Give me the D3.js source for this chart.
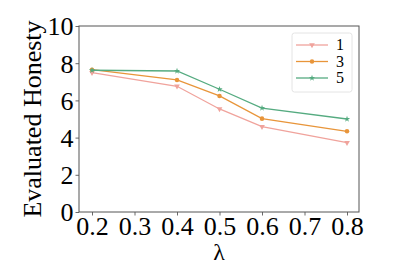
<!DOCTYPE html>
<html>
<head>
<meta charset="utf-8">
<script src="https://cdn.jsdelivr.net/npm/d3@7"></script>
<style>
  body { margin: 0; background: #fff; }
  svg text { font-family: "Liberation Serif", "DejaVu Serif", serif; }
</style>
</head>
<body>
<div id="chart"></div>
<script>
// data
var lambdas = [0.2, 0.4, 0.5, 0.6, 0.8];
var series1 = [7.49, 6.76, 5.54, 4.59, 3.73];
var series3 = [7.65, 7.10, 6.24, 5.02, 4.34];
var series5 = [7.62, 7.58, 6.60, 5.59, 5.00];
var seriesNames = ["1", "3", "5"];
var xTicks = [0.2, 0.3, 0.4, 0.5, 0.6, 0.7, 0.8];
var yTicks = [0, 2, 4, 6, 8, 10];

var svgWidth = 399;
var svgHeight = 266;
var margin = { top: 26, right: 40, bottom: 54, left: 79 };
var width = svgWidth - margin.left - margin.right;
var height = svgHeight - margin.top - margin.bottom;

var svg = d3.select("#chart")
  .append("svg")
  .attr("width", svgWidth)
  .attr("height", svgHeight);

var chartGroup = svg.append("g")
  .attr("transform", `translate(${margin.left}, ${margin.top})`);

var xScale = d3.scaleLinear()
  .domain([0.1694, 0.8282])
  .range([0, width]);

var yScale = d3.scaleLinear()
  .domain([0, 10])
  .range([height, 0]);

// axes
var xAxis = chartGroup.append("g")
  .attr("transform", `translate(0, ${height})`)
  .call(d3.axisBottom(xScale).tickValues(xTicks).tickFormat(d3.format(".1f")).tickSize(3.5).tickPadding(2));

var yAxis = chartGroup.append("g")
  .call(d3.axisLeft(yScale).tickValues(yTicks).tickSize(3.5).tickPadding(2));

[xAxis, yAxis].forEach(function(ax) {
  ax.attr("font-size", null).attr("font-family", null);
  ax.select(".domain").remove();
  ax.selectAll("line").attr("stroke", "#444").attr("stroke-width", 0.8);
  ax.selectAll("text").attr("fill", "#000").style("font-size", "26px");
});
yAxis.selectAll("text").attr("dy", "0.34em");
xAxis.selectAll("text").attr("dy", "0.68em");

// frame
chartGroup.append("rect")
  .attr("width", width)
  .attr("height", height)
  .attr("fill", "none")
  .attr("stroke", "#555")
  .attr("stroke-width", 1);

// lines
var seriesList = [
  { name: seriesNames[0], values: series1, color: "#f0a39c", marker: d3.symbolTriangle, rot: 180, size: 14 },
  { name: seriesNames[1], values: series3, color: "#e8953a", marker: d3.symbolCircle, rot: 0, size: 16 },
  { name: seriesNames[2], values: series5, color: "#55ab80", marker: d3.symbolStar, rot: 0, size: 12 }
];

var line = d3.line()
  .x((d, i) => xScale(lambdas[i]))
  .y(d => yScale(d));

seriesList.forEach(function(s) {
  chartGroup.append("path")
    .datum(s.values)
    .attr("d", line)
    .attr("fill", "none")
    .attr("stroke", s.color)
    .attr("stroke-width", 1.3);

  chartGroup.selectAll(null)
    .data(s.values)
    .enter()
    .append("path")
    .attr("d", d3.symbol().type(s.marker).size(s.size))
    .attr("transform", (d, i) => `translate(${xScale(lambdas[i])}, ${yScale(d)}) rotate(${s.rot})`)
    .attr("fill", s.color);
});

// legend
var legend = chartGroup.append("g")
  .attr("transform", `translate(${width - 67}, 7)`);

legend.append("rect")
  .attr("width", 60)
  .attr("height", 59)
  .attr("rx", 2.5)
  .attr("fill", "#fff")
  .attr("stroke", "#ddd")
  .attr("stroke-width", 0.8);

seriesList.forEach(function(s, i) {
  var g = legend.append("g")
    .attr("transform", `translate(0, ${12 + i * 16.5})`);
  g.append("line")
    .attr("x1", 4).attr("x2", 36)
    .attr("stroke", s.color)
    .attr("stroke-width", 1.3);
  g.append("path")
    .attr("d", d3.symbol().type(s.marker).size(s.size))
    .attr("transform", `translate(20, 0) rotate(${s.rot})`)
    .attr("fill", s.color);
  g.append("text")
    .attr("x", 44)
    .attr("dy", "0.34em")
    .style("font-size", "16px")
    .text(s.name);
});

// axis labels
chartGroup.append("text")
  .attr("x", width / 2)
  .attr("y", height + 48)
  .attr("text-anchor", "middle")
  .style("font-size", "24px")
  .text("λ");

chartGroup.append("text")
  .attr("transform", "rotate(-90)")
  .attr("x", -height / 2)
  .attr("y", -38)
  .attr("text-anchor", "middle")
  .style("font-size", "26px")
  .text("Evaluated Honesty");
</script>
</body>
</html>
